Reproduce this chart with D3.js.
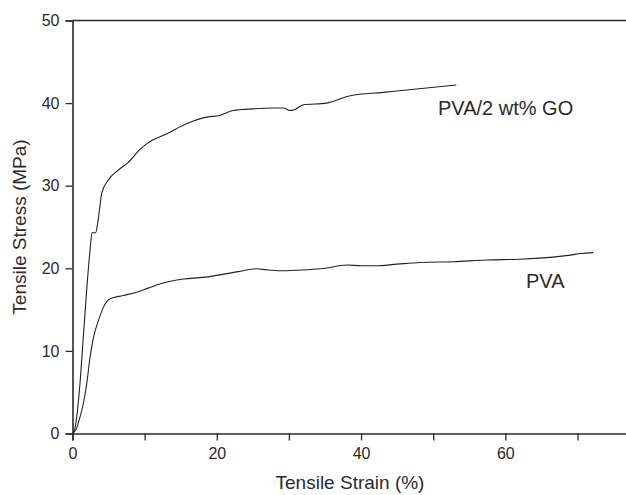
<!DOCTYPE html>
<html>
<head>
<meta charset="utf-8">
<script src="https://cdn.jsdelivr.net/npm/d3@7"></script>
<style>
  body { margin: 0; background: #fff; }
  text { font-family: "Liberation Sans", Arial, sans-serif; fill: #2a2a2a; }
</style>
</head>
<body>
<div id="container"></div>
<script>
// strain (%) / stress (MPa)
var pvaStrain = [0, 0.5, 1.04, 1.5, 1.97, 2.43, 2.9, 3.6, 4.3, 5.2, 7.0, 8.9, 10.5, 12.1, 15.4, 18.1, 20.4, 23, 25.5, 27, 29, 32, 35, 38, 40, 42, 45, 48.2, 52.8, 57.4, 62, 66.6, 69, 70.5, 72.2];
var pvaStress = [0, 0.5, 2.0, 3.6, 6.0, 9.2, 11.6, 13.7, 15.3, 16.3, 16.7, 17.1, 17.6, 18.1, 18.7, 18.9, 19.2, 19.6, 19.95, 19.8, 19.7, 19.8, 20.0, 20.4, 20.3, 20.3, 20.5, 20.7, 20.8, 21.0, 21.1, 21.35, 21.6, 21.8, 21.9];

var goStrain = [0, 0.3, 0.58, 1.04, 1.5, 1.97, 2.43, 2.7, 3.2, 3.5, 3.8, 4.05, 4.96, 6.35, 7.7, 9.36, 10.3, 13.1, 15.8, 18.6, 20.4, 22.3, 25, 27.8, 29.3, 30.1, 30.8, 32, 35.2, 38.5, 43.1, 47.7, 53.2];
var goStress = [0, 0.5, 2.0, 6.1, 11.7, 17.4, 22.2, 24.3, 24.3, 25.5, 27.5, 29.1, 30.7, 31.9, 32.8, 34.4, 35.1, 36.3, 37.5, 38.3, 38.5, 39.1, 39.3, 39.4, 39.4, 39.1, 39.2, 39.8, 40.0, 40.9, 41.3, 41.7, 42.2];

var xTicks = [0, 10, 20, 30, 40, 50, 60, 70, 80];
var yTicks = [0, 10, 20, 30, 40, 50];

var width = 626, height = 495;

var svg = d3.select("#container").append("svg")
    .attr("width", width)
    .attr("height", height);

var x = d3.scaleLinear().domain([0, 80]).range([72.5, 649.6]);
var y = d3.scaleLinear().domain([0, 50]).range([433.5, 20.5]);

// top frame line
svg.append("line")
    .attr("x1", x(0)).attr("x2", x(80))
    .attr("y1", y(50)).attr("y2", y(50))
    .attr("stroke", "#2a2a2a").attr("stroke-width", 1.6);

var gx = svg.append("g")
    .attr("transform", "translate(0," + y(0) + ")")
    .call(d3.axisBottom(x).tickValues(xTicks).tickSize(7).tickPadding(7)
        .tickFormat(function(d) { return d % 20 === 0 && d < 80 ? d : ""; }));

var gy = svg.append("g")
    .attr("transform", "translate(" + x(0) + ",0)")
    .call(d3.axisLeft(y).tickValues(yTicks).tickSize(7).tickPadding(6));

[gx, gy].forEach(function(g) {
  g.select(".domain").attr("stroke", "#2a2a2a").attr("stroke-width", 1.6);
  g.selectAll(".tick line").attr("stroke", "#2a2a2a").attr("stroke-width", 1.3);
  g.selectAll(".tick text").attr("font-size", 16).style("fill", "#2a2a2a")
    .attr("font-family", "Liberation Sans, Arial, sans-serif");
});

var line = d3.line()
    .curve(d3.curveMonotoneX)
    .x(function(d) { return x(d[0]); })
    .y(function(d) { return y(d[1]); });

var pva = pvaStrain.map(function(s, i) { return [s, pvaStress[i]]; });
var go = goStrain.map(function(s, i) { return [s, goStress[i]]; });

[pva, go].forEach(function(data) {
  svg.append("path")
      .datum(data)
      .attr("d", line)
      .attr("fill", "none")
      .attr("stroke", "#222")
      .attr("stroke-width", 1.1);
});

svg.append("text")
    .attr("x", 438).attr("y", 115)
    .attr("font-size", 20)
    .text("PVA/2 wt% GO");

svg.append("text")
    .attr("x", 526).attr("y", 288)
    .attr("font-size", 20)
    .text("PVA");

svg.append("text")
    .attr("x", 350).attr("y", 489)
    .attr("text-anchor", "middle")
    .attr("font-size", 19)
    .text("Tensile Strain (%)");

svg.append("text")
    .attr("transform", "translate(26,227) rotate(-90)")
    .attr("text-anchor", "middle")
    .attr("font-size", 19)
    .text("Tensile Stress (MPa)");
</script>
</body>
</html>
